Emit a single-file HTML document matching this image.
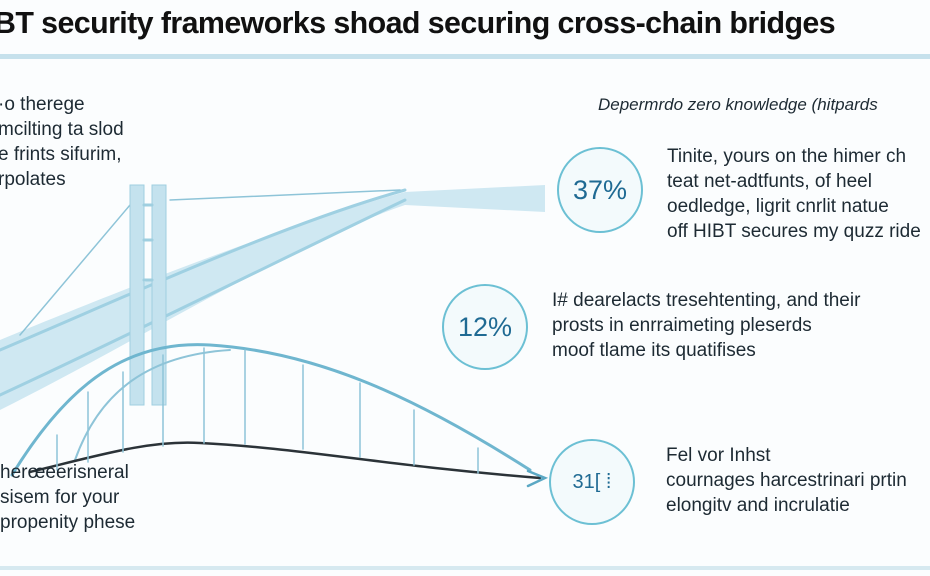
<!DOCTYPE html>
<html><head><meta charset="utf-8"><style>
body{margin:0;width:930px;height:576px;background:#fbfdfe;overflow:hidden;position:relative;font-family:"Liberation Sans",sans-serif;color:#1d2a33}
.t{position:absolute;white-space:nowrap;font-size:19px;line-height:25px}
.title{position:absolute;left:-6px;top:5px;font-size:31px;font-weight:bold;letter-spacing:-0.6px;color:#111;white-space:nowrap;transform:scaleX(0.98);transform-origin:left}
.c{position:absolute;border:2px solid #6cc0d4;border-radius:50%;background:#f3fafc;color:#1f6a93;font-size:27px;display:flex;align-items:center;justify-content:center}
</style></head><body>
<div class="title">BT security frameworks shoad securing cross-chain bridges</div>
<div style="position:absolute;left:0;top:54px;width:930px;height:5px;background:#c6e1ec"></div>
<div style="position:absolute;left:0;top:566px;width:930px;height:4px;background:#d6e9f0"></div>
<svg style="position:absolute;left:0;top:0" width="930" height="576">
<g fill="none" stroke-linecap="round">
<path d="M0 340 C120 290 300 220 405 192 L545 185 L545 212 L405 205 C300 240 140 340 0 410 Z" fill="#cfe8f2" stroke="none"/>
<path d="M0 350 C130 295 280 225 405 190" stroke="#9fd0e2" stroke-width="3"/>
<path d="M0 395 C130 335 300 250 405 200" stroke="#9fd0e2" stroke-width="3"/>
<path d="M20 335 L130 205 M170 200 L400 190" stroke="#8ec4d8" stroke-width="1.5"/>
<rect x="130" y="185" width="14" height="220" fill="#c4e2ee" stroke="#9fcfe0"/>
<rect x="152" y="185" width="14" height="220" fill="#c4e2ee" stroke="#9fcfe0"/>
<path d="M144 205 H152 M144 240 H152 M144 280 H152" stroke="#9fcfe0" stroke-width="3"/>
<path d="M12 475 C70 380 130 340 210 345 C320 352 420 400 530 470" stroke="#6fb6cf" stroke-width="3"/>
<path d="M75 460 C100 390 150 355 230 350" stroke="#8ec4d8" stroke-width="2"/>
<path d="M30 472 C100 455 150 440 200 443 C300 448 380 465 540 478" stroke="#2b3338" stroke-width="2.5"/>
<path d="M528 471 L545 478 L528 486" stroke="#5ba8c4" stroke-width="2.5"/>
<g stroke="#8ec4d8" stroke-width="1.5">
<path d="M57 470V435 M88 462V392 M123 452V372 M163 446V355 M204 443V348 M245 444V350 M303 449V365 M360 457V383 M414 465V410 M478 473V448"/>
</g>
</g>
</svg>
<div class="t" style="left:-2px;top:92px">·o therege<br>mcilting ta slod<br>e frints sifurim,<br>rpolates</div>
<div class="t" style="left:0;top:460px">herœeerisneral<br>sisem for your<br>propenity phese</div>
<div class="t" style="left:598px;top:92px;font-style:italic;font-size:17px">Depermrdo zero knowledge (hitpards</div>
<div class="c" style="left:557px;top:147px;width:82px;height:82px">37%</div>
<div class="c" style="left:442px;top:284px;width:82px;height:82px">12%</div>
<div class="c" style="left:549px;top:439px;width:82px;height:82px;font-size:20px">31[ ⁞</div>
<div class="t" style="left:667px;top:144px">Tinite, yours on the himer ch<br>teat net-adtfunts, of heel<br>oedledge, ligrit cnrlit natue<br>off HIBT secures my quzz ride</div>
<div class="t" style="left:552px;top:288px">I# dearelacts tresehtenting, and their<br>prosts in enrraimeting pleserds<br>moof tlame its quatifises</div>
<div class="t" style="left:666px;top:443px">Fel vor Inhst<br>cournages harcestrinari prtin<br>elongitv and incrulatie</div>
</body></html>
